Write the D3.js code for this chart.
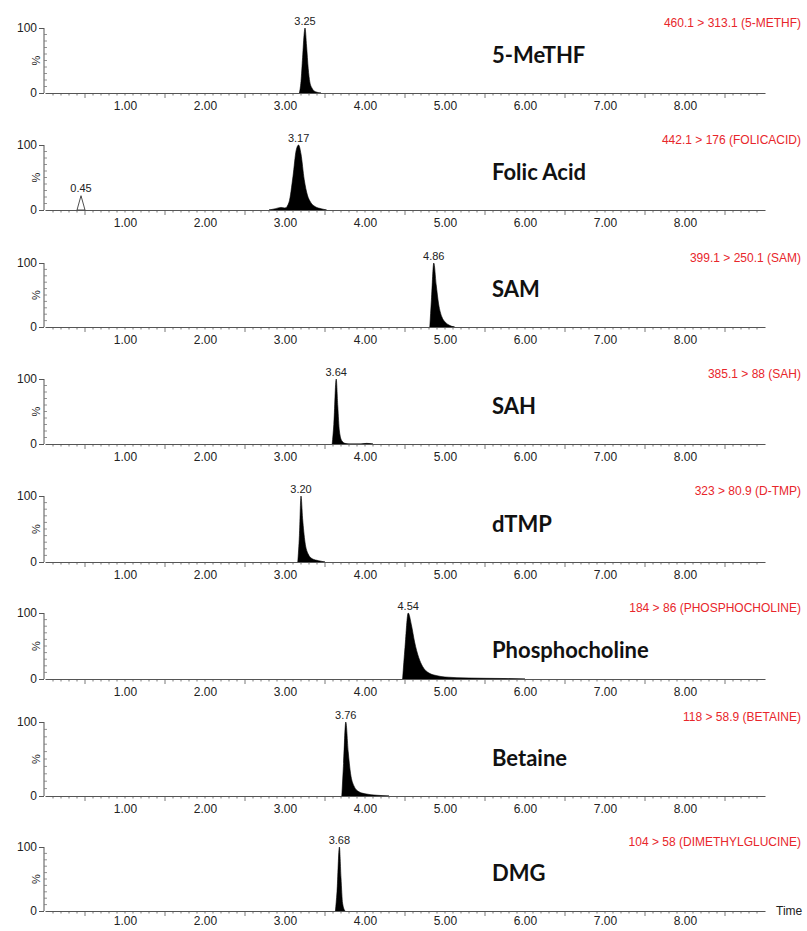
<!DOCTYPE html>
<html lang="en">
  <head>
    <meta charset="UTF-8" />
    <title>MRM chromatograms</title>
    <script src="https://d3js.org/d3.v7.min.js"></script>
    <style>
      body {
        margin: 0;
        background: #fff;
        font-family: Arial, "Liberation Sans", sans-serif;
      }
      .tick-label { font-size: 12px; fill: #222; }
      .peak-label { font-size: 11px; fill: #222; }
      .compound { font-family: Lato, "Open Sans", sans-serif; font-weight: 700; font-size: 22px; fill: #111; }
      .channel { font-size: 12px; fill: #e8262b; }
    </style>
  </head>
  <body>
    <div id="chart"></div>
    <script>
      // compounds, their MRM channel and the retention time of the apex
      const compounds = ["5-MeTHF", "Folic Acid", "SAM", "SAH", "dTMP", "Phosphocholine", "Betaine", "DMG"];
      const channels = [
        "460.1 > 313.1 (5-METHF)",
        "442.1 > 176 (FOLICACID)",
        "399.1 > 250.1 (SAM)",
        "385.1 > 88 (SAH)",
        "323 > 80.9 (D-TMP)",
        "184 > 86 (PHOSPHOCHOLINE)",
        "118 > 58.9 (BETAINE)",
        "104 > 58 (DIMETHYLGLUCINE)"
      ];
      const apexTimes = [3.25, 3.17, 4.86, 3.64, 3.2, 4.54, 3.76, 3.68];

      // peak profiles: [time (min), relative intensity %]
      const mthfPeak = [[3.18, 0], [3.2, 18], [3.22, 55], [3.24, 92], [3.25, 100], [3.27, 72], [3.29, 38], [3.31, 17], [3.34, 7], [3.38, 2], [3.45, 0]];
      const folicPeak = [[2.8, 0], [2.88, 2], [2.95, 4], [3.0, 3], [3.05, 12], [3.1, 52], [3.14, 92], [3.17, 100], [3.2, 86], [3.24, 47], [3.28, 23], [3.32, 12], [3.38, 5], [3.45, 2], [3.52, 0]];
      const folicMinor = [[0.4, 0], [0.45, 22], [0.5, 0]];
      const samPeak = [[4.81, 0], [4.83, 42], [4.86, 100], [4.89, 66], [4.92, 36], [4.96, 16], [5.0, 8], [5.05, 3], [5.12, 0]];
      const sahPeak = [[3.59, 0], [3.61, 30], [3.64, 100], [3.66, 58], [3.68, 20], [3.71, 5], [3.75, 1], [3.8, 0], [3.95, 0], [4.02, 1], [4.1, 0]];
      const dtmpPeak = [[3.16, 0], [3.18, 40], [3.2, 100], [3.22, 66], [3.25, 30], [3.29, 12], [3.34, 5], [3.42, 2], [3.5, 0]];
      const cholinePeak = [[4.47, 0], [4.5, 48], [4.54, 100], [4.58, 82], [4.62, 56], [4.67, 33], [4.72, 19], [4.8, 9], [4.9, 5], [5.0, 3], [5.3, 1.5], [5.7, 0.8], [6.0, 0]];
      const betainePeak = [[3.71, 0], [3.73, 40], [3.76, 100], [3.79, 60], [3.82, 30], [3.86, 14], [3.92, 6], [4.0, 3], [4.15, 1], [4.3, 0]];
      const dmgPeak = [[3.63, 0], [3.65, 30], [3.68, 100], [3.7, 52], [3.72, 12], [3.75, 0]];
      const peaks = [mthfPeak, folicPeak, samPeak, sahPeak, dtmpPeak, cholinePeak, betainePeak, dmgPeak];

      const timeTicks = [1, 2, 3, 4, 5, 6, 7, 8];

      const width = 807;
      const height = 931;
      // y of the 0 and 100 ticks for each trace, and of the compound name
      const baselines = [93, 210, 327, 444, 562, 679, 796, 911];
      const tops = [28, 145, 263, 379, 496, 613, 722, 847];
      const nameY = [63, 180, 297, 414, 532, 658, 766, 881];

      const svg = d3.select("#chart").append("svg").attr("width", width).attr("height", height);

      const x = d3.scaleLinear().domain([0, 9]).range([45, 765]);

      compounds.forEach((name, i) => {
        const base = baselines[i];
        const y = d3.scaleLinear().domain([0, 100]).range([base, tops[i]]);
        const g = svg.append("g");

        const area = d3
          .area()
          .x((d) => x(d[0]))
          .y0(y(0))
          .y1((d) => y(d[1]))
          .curve(d3.curveMonotoneX);

        // extra unfilled peak in the folic acid trace
        if (i === 1) {
          g.append("path")
            .datum(folicMinor)
            .attr("d", area.curve(d3.curveLinear))
            .attr("fill", "#fff")
            .attr("stroke", "#222")
            .attr("stroke-width", 0.8);
          area.curve(d3.curveMonotoneX);
          g.append("text")
            .attr("class", "peak-label")
            .attr("x", x(0.45))
            .attr("y", y(22) - 4)
            .attr("text-anchor", "middle")
            .text("0.45");
        }

        g.append("path")
          .datum(peaks[i])
          .attr("d", area)
          .attr("fill", "#000")
          .attr("stroke", "#000")
          .attr("stroke-width", 0.6);

        // x axis
        const xAxis = d3
          .axisBottom(x)
          .tickValues(timeTicks)
          .tickSize(0)
          .tickPadding(i === 7 ? 5 : 8)
          .tickFormat(d3.format(".2f"));
        const ax = g.append("g").attr("transform", `translate(0,${base})`).call(xAxis);
        ax.select(".domain").attr("stroke", "#555").attr("stroke-width", 1.2);
        ax.selectAll("text").attr("class", "tick-label").style("font-size", "12px").attr("fill", "#222");

        const minor = d3.range(1, 90).map((k) => k / 10);
        g.selectAll(".minor")
          .data(minor)
          .join("line")
          .attr("x1", (d) => x(d))
          .attr("x2", (d) => x(d))
          .attr("y1", base)
          .attr("y2", (d) => base + (Math.round(d * 10) % 10 === 5 ? 5 : 2.5))
          .attr("stroke", "#555")
          .attr("stroke-width", 0.8);

        // y axis
        const yAxis = d3.axisLeft(y).tickValues([0, 100]).tickSize(5).tickPadding(2);
        const ay = g.append("g").attr("transform", `translate(${x(0) - 1},0)`).call(yAxis);
        ay.select(".domain").attr("stroke", "#555").attr("d", `M0,${y(0)}V${y(100)}`);
        ay.selectAll("line").attr("stroke", "#555");
        ay.selectAll("text").attr("class", "tick-label").style("font-size", "12px").attr("fill", "#222");

        g.selectAll(".yminor")
          .data(d3.range(10, 100, 10))
          .join("line")
          .attr("x1", x(0) - 1)
          .attr("x2", x(0) + 2)
          .attr("y1", (d) => y(d))
          .attr("y2", (d) => y(d))
          .attr("stroke", "#777")
          .attr("stroke-width", 0.8);

        g.append("text")
          .attr("class", "tick-label")
          .attr("transform", `translate(${x(0) - 9},${y(50)}) rotate(-90)`)
          .attr("text-anchor", "middle")
          .attr("dy", "0.35em")
          .style("font-size", "11px")
          .text("%");

        // apex retention time
        g.append("text")
          .attr("class", "peak-label")
          .attr("x", x(apexTimes[i]))
          .attr("y", y(100) - 3)
          .attr("text-anchor", "middle")
          .text(apexTimes[i].toFixed(2));

        g.append("text")
          .attr("class", "compound")
          .attr("x", 492)
          .attr("y", nameY[i])
          .text(name);

        g.append("text")
          .attr("class", "channel")
          .attr("x", 801)
          .attr("y", tops[i] - 1)
          .attr("text-anchor", "end")
          .text(channels[i]);
      });

      svg.append("text")
        .attr("class", "tick-label")
        .attr("x", 776)
        .attr("y", baselines[7] + 4)
        .style("font-size", "12px")
        .text("Time");
    </script>
  </body>
</html>
